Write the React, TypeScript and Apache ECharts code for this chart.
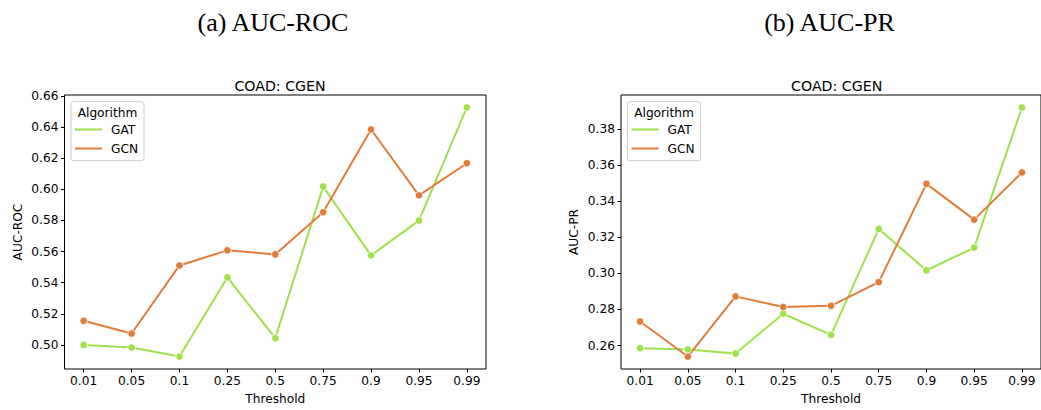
import React, { useEffect, useRef } from "react";
import * as echarts from "echarts";

const thresholds = ["0.01", "0.05", "0.1", "0.25", "0.5", "0.75", "0.9", "0.95", "0.99"];
const xIndex = [0, 1, 2, 3, 4, 5, 6, 7, 8];

const rocGAT = [0.5, 0.4983, 0.4925, 0.5434, 0.5043, 0.6018, 0.5576, 0.5799, 0.6527];
const rocGCN = [0.5155, 0.5073, 0.5511, 0.5608, 0.5582, 0.5853, 0.6385, 0.5962, 0.6168];
const prGAT = [0.2585, 0.2578, 0.2556, 0.2776, 0.2659, 0.3245, 0.3016, 0.3142, 0.3918];
const prGCN = [0.2733, 0.2539, 0.2872, 0.2813, 0.282, 0.2951, 0.3495, 0.3297, 0.3558];

const rocTicks = [0.5, 0.52, 0.54, 0.56, 0.58, 0.6, 0.62, 0.64, 0.66];
const prTicks = [0.26, 0.28, 0.3, 0.32, 0.34, 0.36, 0.38];

const GAT_COLOR = "#a0e04d";
const GCN_COLOR = "#e07d3a";
const FONT = "DejaVu Sans";
const FS = 12.2;

export default function App() {
  const ref = useRef<HTMLDivElement>(null);
  useEffect(() => {
    if (!ref.current) return;
    const chart = echarts.init(ref.current, undefined, { renderer: "svg" });

    const grids = [
      { left: 64.5, top: 95, width: 421.5, height: 274.5 },
      { left: 621, top: 95, width: 421.5, height: 274.5 },
    ];
    const yRanges = [
      [0.4845, 0.6607],
      [0.247, 0.3987],
    ];
    const yNames = ["AUC-ROC", "AUC-PR"];
    const yTicks = [rocTicks, prTicks];

    const xAxes = grids.map((_, i) => ({
      type: "value",
      gridIndex: i,
      min: -0.4,
      max: 8.4,
      axisLine: { show: false, onZero: false },
      splitLine: { show: false },
      axisTick: { show: true, length: 3.5, customValues: xIndex, lineStyle: { color: "#000", width: 1 } },
      axisLabel: {
        customValues: xIndex,
        margin: 6,
        color: "#000",
        fontFamily: FONT,
        fontSize: FS,
        formatter: (v: number) => thresholds[Math.round(v)] ?? "",
      },
      name: "Threshold",
      nameLocation: "middle",
      nameGap: 24,
      nameTextStyle: { color: "#000", fontFamily: FONT, fontSize: FS },
    }));

    const yAxes = grids.map((_, i) => ({
      type: "value",
      gridIndex: i,
      min: yRanges[i][0],
      max: yRanges[i][1],
      axisLine: { show: false, onZero: false },
      splitLine: { show: false },
      axisTick: { show: true, length: 3.5, customValues: yTicks[i], lineStyle: { color: "#000", width: 1 } },
      axisLabel: {
        customValues: yTicks[i],
        margin: 6,
        color: "#000",
        fontFamily: FONT,
        fontSize: FS,
        formatter: (v: number) => v.toFixed(2),
      },
      name: yNames[i],
      nameLocation: "middle",
      nameGap: 41,
      nameTextStyle: { color: "#000", fontFamily: FONT, fontSize: FS },
    }));

    const mk = (name: string, color: string, vals: number[], gi: number) => ({
      type: "line",
      name,
      xAxisIndex: gi,
      yAxisIndex: gi,
      data: vals.map((v, k) => [xIndex[k], v]),
      symbol: "circle",
      symbolSize: 7.5,
      lineStyle: { color, width: 2 },
      itemStyle: { color, borderColor: "#fff", borderWidth: 0.8 },
      emphasis: { disabled: true },
    });

    const legendBox = (x0: number) => [
      {
        type: "rect",
        shape: { x: x0 + 6.5, y: 101.7, width: 73, height: 59, r: 2.5 },
        style: { fill: "rgba(255,255,255,0.8)", stroke: "#cccccc", lineWidth: 1 },
        z: 10,
      },
      {
        type: "text",
        x: x0 + 43,
        y: 112.5,
        style: { text: "Algorithm", fontFamily: FONT, fontSize: FS, fill: "#000", align: "center", verticalAlign: "middle" },
        z: 11,
      },
    ];

    const legendItem = (name: string, color: string, x0: number, y: number) => ({
      data: [{ name, icon: "rect", itemStyle: { color, borderWidth: 0 } }],
      left: x0 + 10.5,
      top: y,
      orient: "vertical",
      itemWidth: 27,
      itemHeight: 2,
      padding: 0,
      selectedMode: false,
      z: 12,
      textStyle: { color: "#000", fontFamily: FONT, fontSize: FS, padding: [0, 0, 0, 4] },
    });

    chart.setOption({
      animation: false,
      title: [
        { text: "COAD: CGEN", left: 275, top: 74, textAlign: "center", textStyle: { fontFamily: FONT, fontSize: 14.2, fontWeight: "normal", color: "#000" } },
        { text: "COAD: CGEN", left: 831.7, top: 74, textAlign: "center", textStyle: { fontFamily: FONT, fontSize: 14.2, fontWeight: "normal", color: "#000" } },
        { text: "(a) AUC-ROC", left: 268, top: 4, textAlign: "center", textStyle: { fontFamily: "Liberation Serif", fontSize: 26, fontWeight: "normal", color: "#000" } },
        { text: "(b) AUC-PR", left: 824.5, top: 4, textAlign: "center", textStyle: { fontFamily: "Liberation Serif", fontSize: 26, fontWeight: "normal", color: "#000" } },
      ],
      grid: grids.map((g) => ({ ...g, show: true, borderColor: "#000", borderWidth: 1, backgroundColor: "transparent" })),
      xAxis: xAxes,
      yAxis: yAxes,
      legend: [
        legendItem("GAT", GAT_COLOR, 64.5, 123.5),
        legendItem("GCN", GCN_COLOR, 64.5, 142.5),
        legendItem("GAT", GAT_COLOR, 621, 123.5),
        legendItem("GCN", GCN_COLOR, 621, 142.5),
      ],
      graphic: [...legendBox(64.5), ...legendBox(621)],
      series: [
        mk("GAT", GAT_COLOR, rocGAT, 0),
        mk("GCN", GCN_COLOR, rocGCN, 0),
        mk("GAT", GAT_COLOR, prGAT, 1),
        mk("GCN", GCN_COLOR, prGCN, 1),
      ],
    });
    return () => chart.dispose();
  }, []);
  return <div ref={ref} style={{ position: "fixed", left: 0, top: 0, width: 1041, height: 410, background: "#fff" }} />;
}
